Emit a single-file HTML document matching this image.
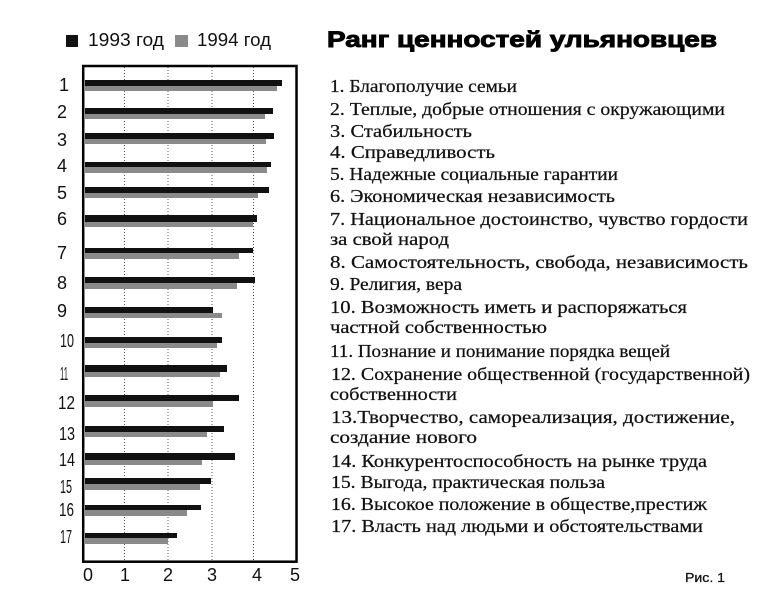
<!DOCTYPE html>
<html><head><meta charset="utf-8">
<style>
html,body{margin:0;padding:0;background:#fff;}
svg{display:block;}
.lst{font-family:"Liberation Serif","Noto Serif CJK SC",serif;font-size:18px;fill:#111;stroke:#111;stroke-width:0.25;}
.ax{font-family:"Liberation Sans",sans-serif;font-size:18px;fill:#111;}
</style></head>
<body>
<svg width="777" height="591" viewBox="0 0 777 591" xmlns="http://www.w3.org/2000/svg">
<rect width="777" height="591" fill="#fff"/>
<!-- legend -->
<rect x="66" y="35" width="12" height="12" fill="#111"/>
<text class="ax" x="88" y="46" textLength="76" lengthAdjust="spacingAndGlyphs">1993 год</text>
<rect x="175" y="35" width="13" height="12" fill="#8a8a8a"/>
<text class="ax" x="197" y="46" textLength="74" lengthAdjust="spacingAndGlyphs">1994 год</text>
<!-- title -->
<text x="327" y="47" font-family="Liberation Sans, sans-serif" font-weight="bold" font-size="22" fill="#000" stroke="#000" stroke-width="0.9" textLength="390" lengthAdjust="spacingAndGlyphs">Ранг ценностей ульяновцев</text>
<!-- grid -->
<g stroke="#555" stroke-width="1" stroke-dasharray="1,2">
<line x1="124.5" y1="67" x2="124.5" y2="561"/>
<line x1="168" y1="67" x2="168" y2="561"/>
<line x1="212" y1="67" x2="212" y2="561"/>
<line x1="253.5" y1="67" x2="253.5" y2="561"/>
</g>
<!-- bars -->
<g fill="#111">
<rect x="85" y="80" width="197" height="6"/>
<rect x="85" y="108" width="188" height="6"/>
<rect x="85" y="133" width="189" height="6"/>
<rect x="85" y="162" width="186" height="5"/>
<rect x="85" y="187" width="184" height="6"/>
<rect x="85" y="215" width="172" height="7"/>
<rect x="85" y="248" width="168" height="5"/>
<rect x="85" y="277" width="170" height="6"/>
<rect x="85" y="307" width="128" height="6"/>
<rect x="85" y="337" width="137" height="6"/>
<rect x="85" y="365" width="142" height="7"/>
<rect x="85" y="395" width="154" height="6"/>
<rect x="85" y="426" width="139" height="6"/>
<rect x="85" y="453" width="150" height="7"/>
<rect x="85" y="478" width="126" height="6"/>
<rect x="85" y="505" width="116" height="5"/>
<rect x="85" y="533" width="92" height="5"/>
</g>
<g fill="#8a8a8a">
<rect x="85" y="86" width="192" height="5"/>
<rect x="85" y="114" width="180" height="5"/>
<rect x="85" y="139" width="181" height="5"/>
<rect x="85" y="167" width="182" height="6"/>
<rect x="85" y="193" width="173" height="5"/>
<rect x="85" y="222" width="168" height="5"/>
<rect x="85" y="253" width="154" height="6"/>
<rect x="85" y="283" width="152" height="6"/>
<rect x="85" y="313" width="137" height="5"/>
<rect x="85" y="343" width="132" height="5"/>
<rect x="85" y="372" width="135" height="5"/>
<rect x="85" y="401" width="128" height="6"/>
<rect x="85" y="432" width="122" height="5"/>
<rect x="85" y="460" width="117" height="5"/>
<rect x="85" y="484" width="115" height="6"/>
<rect x="85" y="510" width="102" height="6"/>
<rect x="85" y="538" width="83" height="6"/>
</g>
<!-- frame -->
<rect x="83.2" y="66" width="213.3" height="495.7" fill="none" stroke="#000" stroke-width="2.5"/>
<!-- row labels -->
<g class="ax">
<text x="59" y="91">1</text>
<text x="57" y="118">2</text>
<text x="57" y="146">3</text>
<text x="57" y="172">4</text>
<text x="57" y="199">5</text>
<text x="57" y="225">6</text>
<text x="57" y="259">7</text>
<text x="57" y="289">8</text>
<text x="57" y="317">9</text>
<text x="60" y="347" textLength="14" lengthAdjust="spacingAndGlyphs">10</text>
<text x="60" y="380" textLength="8" lengthAdjust="spacingAndGlyphs">11</text>
<text x="58" y="409" textLength="17" lengthAdjust="spacingAndGlyphs">12</text>
<text x="59" y="440" textLength="16" lengthAdjust="spacingAndGlyphs">13</text>
<text x="59" y="466" textLength="16" lengthAdjust="spacingAndGlyphs">14</text>
<text x="60" y="493" textLength="12" lengthAdjust="spacingAndGlyphs">15</text>
<text x="59" y="516" textLength="15" lengthAdjust="spacingAndGlyphs">16</text>
<text x="60" y="543" textLength="12" lengthAdjust="spacingAndGlyphs">17</text>
</g>
<!-- x ticks -->
<g class="ax" text-anchor="middle">
<text x="88" y="581">0</text>
<text x="125" y="581">1</text>
<text x="168" y="581">2</text>
<text x="212" y="581">3</text>
<text x="257" y="581">4</text>
<text x="295" y="581">5</text>
</g>
<!-- list -->
<g class="lst">
<text x="330" y="92" textLength="187" lengthAdjust="spacingAndGlyphs">1. Благополучие семьи</text>
<text x="330" y="115" textLength="395" lengthAdjust="spacingAndGlyphs">2. Теплые, добрые отношения с окружающими</text>
<text x="330" y="137" textLength="142" lengthAdjust="spacingAndGlyphs">3.  Стабильность</text>
<text x="330" y="158" textLength="165" lengthAdjust="spacingAndGlyphs">4.  Справедливость</text>
<text x="330" y="180" textLength="288" lengthAdjust="spacingAndGlyphs">5. Надежные социальные гарантии</text>
<text x="330" y="202" textLength="285" lengthAdjust="spacingAndGlyphs">6. Экономическая независимость</text>
<text x="330" y="225" textLength="418" lengthAdjust="spacingAndGlyphs">7. Национальное достоинство, чувство гордости</text>
<text x="330" y="245" textLength="119" lengthAdjust="spacingAndGlyphs">за свой народ</text>
<text x="330" y="268" textLength="418" lengthAdjust="spacingAndGlyphs">8.  Самостоятельность,  свобода,  независимость</text>
<text x="330" y="290" textLength="132" lengthAdjust="spacingAndGlyphs">9. Религия, вера</text>
<text x="330" y="313" textLength="357" lengthAdjust="spacingAndGlyphs">10.  Возможность иметь и распоряжаться</text>
<text x="330" y="333" textLength="217" lengthAdjust="spacingAndGlyphs">частной собственностью</text>
<text x="330" y="357" textLength="340" lengthAdjust="spacingAndGlyphs">11. Познание и понимание порядка вещей</text>
<text x="331" y="380" textLength="419" lengthAdjust="spacingAndGlyphs">12. Сохранение общественной (государственной)</text>
<text x="330" y="400" textLength="127" lengthAdjust="spacingAndGlyphs">собственности</text>
<text x="331" y="423" textLength="404" lengthAdjust="spacingAndGlyphs">13.Творчество, самореализация, достижение,</text>
<text x="330" y="443" textLength="147" lengthAdjust="spacingAndGlyphs">создание нового</text>
<text x="331" y="467" textLength="376" lengthAdjust="spacingAndGlyphs">14. Конкурентоспособность на рынке труда</text>
<text x="331" y="488" textLength="274" lengthAdjust="spacingAndGlyphs">15. Выгода, практическая польза</text>
<text x="331" y="510" textLength="376" lengthAdjust="spacingAndGlyphs">16. Высокое положение в обществе,престиж</text>
<text x="331" y="532" textLength="372" lengthAdjust="spacingAndGlyphs">17. Власть над людьми и обстоятельствами</text>
</g>
<text x="685" y="582" font-family="Liberation Sans, sans-serif" font-size="13" fill="#111" stroke="#111" stroke-width="0.3" textLength="40" lengthAdjust="spacingAndGlyphs">Рис. 1</text>
</svg>
</body></html>
